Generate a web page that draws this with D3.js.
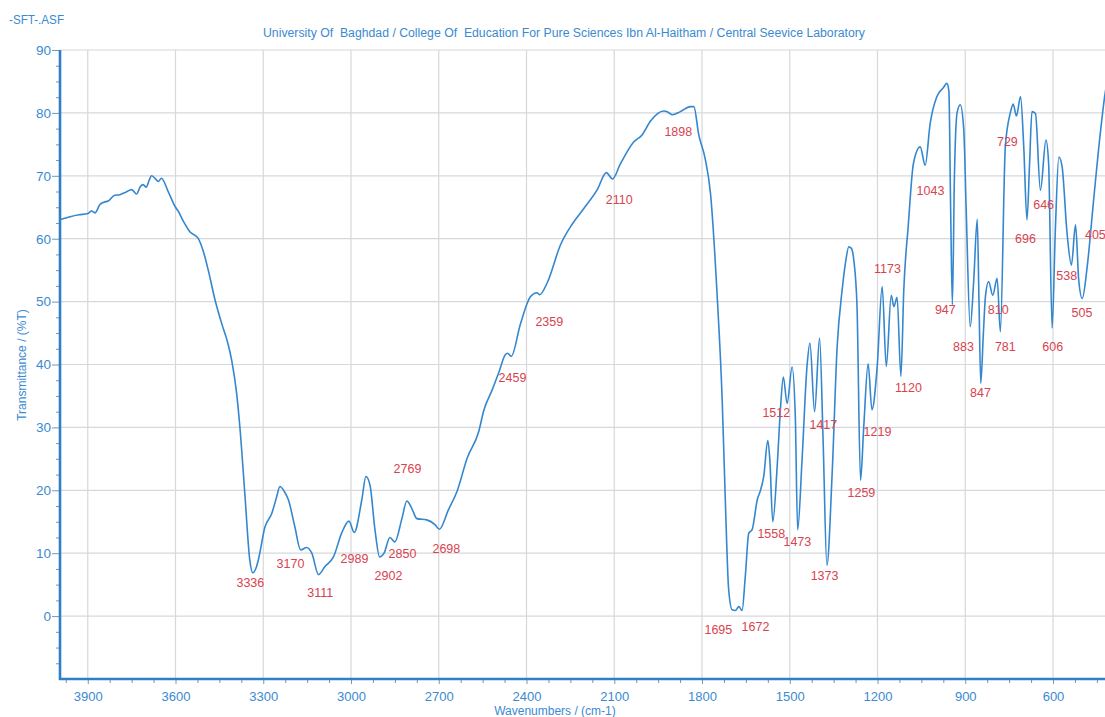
<!DOCTYPE html>
<html>
<head>
<meta charset="utf-8">
<script src="https://cdn.jsdelivr.net/npm/d3@7"></script>
<style>
  html, body { margin: 0; padding: 0; background: #fff; }
  svg { display: block; font-family: "Liberation Sans", Arial, sans-serif; }
</style>
</head>
<body>
<div id="chart"></div>
<script>
// header texts
const SAMPLE_ID = '-SFT-.ASF';
const TITLE = 'University Of  Baghdad / College Of  Education For Pure Sciences Ibn Al-Haitham / Central Seevice Laboratory';
const X_LABEL = 'Wavenumbers / (cm-1)';
const Y_LABEL = 'Transmittance / (%T)';

const X_DOMAIN = [4000, 400];
const Y_DOMAIN = [-10, 90];
const xTicks = [3900, 3600, 3300, 3000, 2700, 2400, 2100, 1800, 1500, 1200, 900, 600];
const yTicks = [0, 10, 20, 30, 40, 50, 60, 70, 80, 90];

// [wavenumber cm-1, %T]
const spectrum = [
  [3996, 63.0], [3960, 63.5], [3930, 63.8], [3900, 64.0], [3887, 64.4], [3875, 64.1],
  [3859, 65.4], [3845, 65.8], [3830, 66.0], [3808, 66.9], [3790, 67.0], [3770, 67.4],
  [3750, 67.8], [3733, 67.1], [3720, 68.3], [3711, 68.6], [3700, 68.2], [3690, 69.3],
  [3682, 70.0], [3670, 69.6], [3659, 69.1], [3648, 69.6], [3625, 67.5], [3600, 65.0],
  [3591, 64.4], [3570, 62.5], [3551, 61.1], [3523, 60.1], [3505, 58.0], [3488, 55.0],
  [3465, 50.3], [3442, 46.5], [3420, 43.2], [3408, 40.7], [3391, 35.4], [3380, 30.1],
  [3363, 19.5], [3346, 8.9], [3336, 6.9], [3325, 7.6], [3317, 8.9], [3294, 14.2],
  [3271, 16.3], [3255, 18.8], [3243, 20.6], [3228, 19.8], [3214, 18.5], [3192, 14.2],
  [3172, 10.5], [3152, 10.9], [3134, 10.0], [3111, 6.6], [3089, 7.9], [3060, 9.4],
  [3032, 13.2], [3007, 15.1], [2989, 13.3], [2963, 18.5], [2949, 22.2], [2935, 20.8],
  [2918, 13.7], [2902, 9.4], [2887, 10.0], [2867, 12.5], [2850, 11.8], [2826, 15.5],
  [2809, 18.3], [2792, 17.1], [2775, 15.5], [2741, 15.3], [2712, 14.5], [2698, 13.8],
  [2667, 16.9], [2637, 19.9], [2603, 25.1], [2563, 29.4], [2546, 32.7], [2517, 36.0],
  [2495, 38.7], [2472, 41.6], [2465, 41.8], [2452, 41.3], [2421, 46.4], [2386, 50.8],
  [2364, 51.4], [2355, 51.1], [2329, 53.0], [2284, 59.0], [2244, 62.3], [2204, 64.8],
  [2158, 67.8], [2127, 70.5], [2106, 69.5], [2079, 71.9], [2033, 75.4], [2005, 76.5],
  [1976, 78.7], [1931, 80.3], [1919, 80.2], [1902, 79.7], [1874, 80.2], [1840, 81.0],
  [1828, 81.0], [1811, 76.5], [1789, 72.7], [1771, 67.2], [1748, 50.8], [1731, 34.4],
  [1720, 18.0], [1709, 4.3], [1697, 1.0], [1686, 0.9], [1674, 1.5], [1663, 0.9],
  [1652, 6.3], [1640, 13.2], [1629, 13.7], [1611, 18.5], [1600, 20.0], [1589, 22.2],
  [1575, 27.9], [1568, 24.8], [1558, 15.0], [1543, 23.8], [1532, 32.8], [1522, 38.0],
  [1509, 33.8], [1492, 39.6], [1481, 31.7], [1473, 13.7], [1458, 24.8], [1441, 39.7],
  [1431, 43.4], [1415, 32.5], [1398, 44.2], [1386, 28.0], [1373, 8.1], [1355, 22.7],
  [1338, 42.8], [1321, 51.8], [1310, 56.0], [1298, 58.7], [1290, 58.5], [1281, 56.6],
  [1270, 49.2], [1258, 21.6], [1247, 30.1], [1232, 40.1], [1219, 32.8], [1201, 39.7],
  [1184, 52.4], [1170, 39.7], [1153, 51.0], [1144, 49.2], [1133, 50.7], [1120, 38.1],
  [1110, 52.0], [1095, 62.0], [1077, 72.0], [1054, 74.6], [1037, 71.7], [1020, 78.3],
  [997, 82.6], [975, 84.0], [963, 84.7], [956, 83.5], [950, 65.0], [944, 49.5],
  [937, 70.0], [928, 80.0], [917, 81.3], [905, 77.3], [897, 65.0], [883, 46.0],
  [871, 53.4], [859, 63.1], [853, 50.0], [847, 37.0], [838, 45.0], [831, 50.8],
  [820, 53.2], [806, 51.0], [791, 53.7], [780, 45.2], [763, 74.6], [746, 80.0],
  [736, 81.4], [725, 79.5], [711, 82.6], [700, 74.6], [689, 63.0], [680, 72.0],
  [672, 80.2], [660, 79.9], [643, 67.7], [624, 75.7], [615, 72.0], [603, 45.8],
  [592, 61.4], [580, 73.0], [569, 71.5], [552, 60.9], [537, 55.8], [523, 62.2],
  [512, 53.4], [500, 50.5], [483, 55.6], [460, 66.7], [437, 77.3], [420, 83.6],
  [405, 86.0]
];

// peak annotations: text, label centre (wavenumber, %T)
const peakLabels = [
  ['3336', 3344, 5.3], ['3170', 3207, 8.3], ['3111', 3105, 3.7], ['2989', 2988, 9.2],
  ['2902', 2872, 6.4], ['2850', 2824, 9.9], ['2769', 2807, 23.4], ['2698', 2674, 10.8],
  ['2459', 2448, 37.9], ['2359', 2322, 46.8], ['2110', 2083, 66.3], ['1898', 1881, 77.1],
  ['1695', 1744, -2.2], ['1672', 1617, -1.7], ['1558', 1563, 13.1], ['1473', 1474, 11.9],
  ['1512', 1546, 32.4], ['1417', 1385, 30.5], ['1373', 1381, 6.5], ['1259', 1255, 19.7],
  ['1219', 1200, 29.3], ['1173', 1166, 55.3], ['1120', 1094, 36.3], ['1043', 1019, 67.7],
  ['947', 968, 48.7], ['883', 906, 42.9], ['847', 848, 35.5], ['810', 787, 48.7],
  ['781', 763, 42.9], ['729', 756, 75.4], ['696', 694, 60.1], ['646', 632, 65.4],
  ['606', 601, 42.9], ['538', 553, 54.1], ['505', 501, 48.3], ['405', 455, 60.7]
];

const W = 1105, H = 717;
const BLUE = '#2f7fc8', TEXT_BLUE = '#3a8ad2', RED = '#d8434f', GRID = '#d6d8db';

const svg = d3.select('#chart').append('svg').attr('width', W).attr('height', H);
svg.append('rect').attr('width', W).attr('height', H).attr('fill', '#fff');

const x = d3.scaleLinear().domain(X_DOMAIN).range([58.5, 1111.5]);
const y = d3.scaleLinear().domain(Y_DOMAIN).range([679, 50]);
const xLeft = x.range()[0] + 1.5;

// grid
svg.append('g').selectAll('line').data(xTicks).enter().append('line')
  .attr('x1', d => x(d)).attr('x2', d => x(d)).attr('y1', y(90)).attr('y2', y(-10))
  .attr('stroke', GRID).attr('stroke-width', 1.2);
svg.append('g').selectAll('line').data(yTicks).enter().append('line')
  .attr('x1', xLeft).attr('x2', W).attr('y1', d => y(d)).attr('y2', d => y(d))
  .attr('stroke', GRID).attr('stroke-width', 1.2);

// minor ticks
const xMinor = d3.range(3975, 400, -75).filter(d => d % 300 !== 0);
const yMinor = d3.range(-7.5, 90, 2.5).filter(d => d % 10 !== 0);

const gx = svg.append('g').attr('transform', `translate(0,${y(-10)})`);
gx.call(d3.axisBottom(x).tickValues(xMinor).tickSize(4).tickFormat(''));
gx.selectAll('.tick line').attr('stroke', '#8a9099');
gx.select('.domain').remove();
const gx2 = svg.append('g').attr('transform', `translate(0,${y(-10)})`);
gx2.call(d3.axisBottom(x).tickValues(xTicks).tickSize(5).tickPadding(8).tickFormat(d3.format('d')));
gx2.selectAll('.tick line').attr('stroke', '#7c94b0');
gx2.select('.domain').remove();
gx2.selectAll('text').attr('fill', TEXT_BLUE).attr('font-size', 13).attr('font-family', '"Liberation Sans", Arial, sans-serif');

const gy = svg.append('g').attr('transform', `translate(${xLeft},0)`);
gy.call(d3.axisLeft(y).tickValues(yMinor).tickSize(4).tickFormat(''));
gy.selectAll('.tick line').attr('stroke', '#8a9099');
gy.select('.domain').remove();
const gy2 = svg.append('g').attr('transform', `translate(${xLeft},0)`);
gy2.call(d3.axisLeft(y).tickValues(yTicks).tickSize(8).tickPadding(1));
gy2.selectAll('.tick line').attr('stroke', '#7c94b0');
gy2.select('.domain').remove();
gy2.selectAll('text').attr('fill', TEXT_BLUE).attr('font-size', 13.5).attr('font-family', '"Liberation Sans", Arial, sans-serif');

// axis frame (left + bottom)
svg.append('line').attr('x1', xLeft).attr('x2', xLeft).attr('y1', y(90)).attr('y2', y(-10) + 1)
  .attr('stroke', BLUE).attr('stroke-width', 2.6);
svg.append('line').attr('x1', xLeft - 1).attr('x2', W).attr('y1', y(-10)).attr('y2', y(-10))
  .attr('stroke', BLUE).attr('stroke-width', 2.6);

// spectrum trace
const line = d3.line().x(d => x(d[0])).y(d => y(d[1])).curve(d3.curveMonotoneX);
svg.append('path').datum(spectrum).attr('d', line)
  .attr('fill', 'none').attr('stroke', '#3487cf').attr('stroke-width', 1.6)
  .attr('stroke-linejoin', 'round');

// peak labels
svg.append('g').selectAll('text').data(peakLabels).enter().append('text')
  .attr('x', d => x(d[1])).attr('y', d => y(d[2])).attr('dy', '0.36em')
  .attr('text-anchor', 'middle').attr('fill', RED).attr('font-size', 12.5)
  .text(d => d[0]);

// header + axis titles
svg.append('text').attr('x', 9).attr('y', 24).attr('fill', TEXT_BLUE).attr('font-size', 12)
  .attr('textLength', 55).attr('lengthAdjust', 'spacingAndGlyphs').text(SAMPLE_ID);
svg.append('text').attr('x', 263).attr('y', 37).attr('fill', TEXT_BLUE).attr('font-size', 12)
  .style('white-space', 'pre')
  .attr('textLength', 602).attr('lengthAdjust', 'spacingAndGlyphs').text(TITLE);
svg.append('text').attr('x', 555).attr('y', 715).attr('text-anchor', 'middle')
  .attr('fill', TEXT_BLUE).attr('font-size', 12).text(X_LABEL);
svg.append('text').attr('transform', 'translate(26,365) rotate(-90)').attr('text-anchor', 'middle')
  .attr('fill', TEXT_BLUE).attr('font-size', 12).text(Y_LABEL);
</script>
</body>
</html>
